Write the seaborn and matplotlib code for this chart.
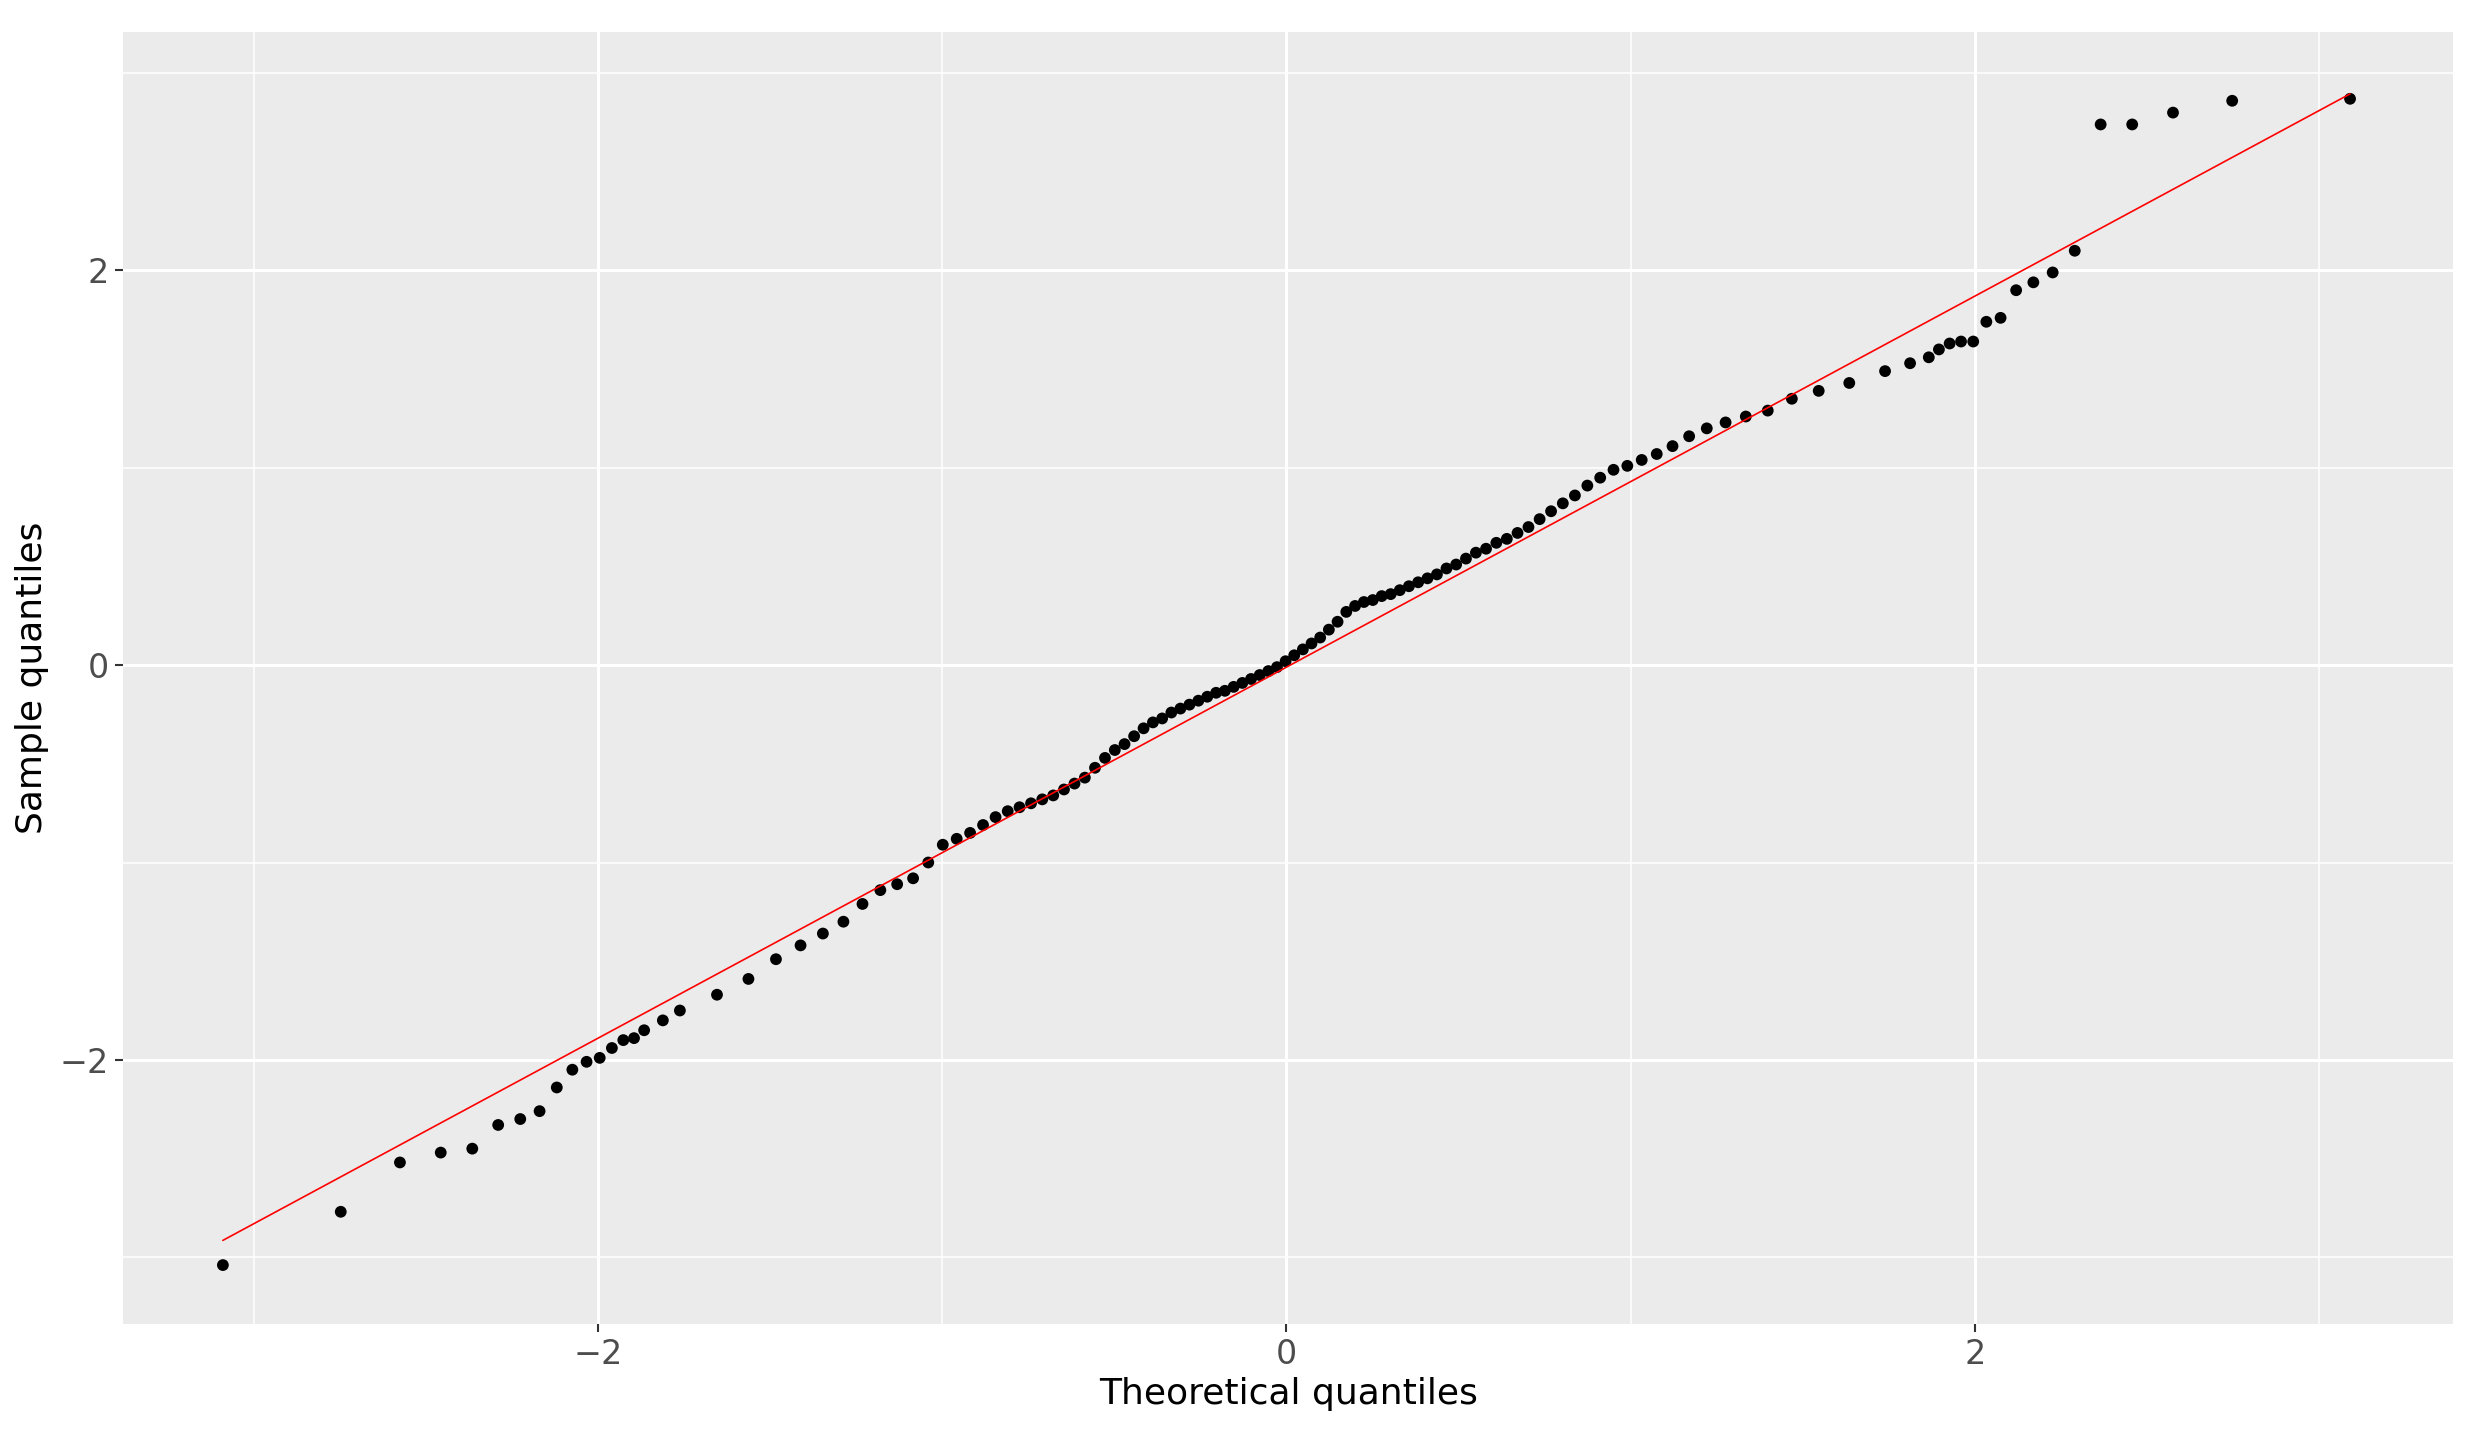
import numpy as np
import pandas as pd
import seaborn as sns
import matplotlib
matplotlib.use("Agg")
import matplotlib.pyplot as plt
from statistics import NormalDist

n_total = 500
ranks = ([1, 2, 3, 4, 5, 6, 7, 8, 9, 10, 11, 12, 13, 14, 15, 16, 18]
         + list(range(20, 481, 5)) + [483, 485]
         + [486, 487, 488, 489, 490, 491, 492, 493, 494, 495, 496, 497, 498, 499, 500])
sample = ([-3.04, -2.77, -2.52, -2.47, -2.45, -2.33, -2.30, -2.26, -2.14, -2.05, -2.01, -1.99,
           -1.94, -1.90, -1.89, -1.85, -1.80,
           -1.75, -1.67, -1.59, -1.49, -1.42, -1.36, -1.30, -1.21, -1.14, -1.11, -1.08, -1.00,
           -0.91, -0.88, -0.85, -0.81, -0.77, -0.74, -0.72, -0.70, -0.68, -0.66, -0.63, -0.60,
           -0.57, -0.52, -0.47, -0.43, -0.40, -0.36, -0.32, -0.29, -0.27, -0.24, -0.22, -0.20,
           -0.18, -0.16, -0.14, -0.13, -0.11, -0.09, -0.07, -0.05, -0.03, -0.01, 0.02, 0.05,
           0.08, 0.11, 0.14, 0.18, 0.22, 0.27, 0.30, 0.32, 0.33, 0.35, 0.36, 0.38, 0.40, 0.42,
           0.44, 0.46, 0.49, 0.51, 0.54, 0.57, 0.59, 0.62, 0.64, 0.67, 0.70, 0.74, 0.78, 0.82,
           0.86, 0.91, 0.95, 0.99, 1.01, 1.04, 1.07, 1.11, 1.16, 1.20, 1.23, 1.26, 1.29, 1.35,
           1.39, 1.43, 1.49, 1.53, 1.56,
           1.60, 1.63, 1.64, 1.64, 1.74, 1.76, 1.90, 1.94, 1.99, 2.10, 2.74, 2.74, 2.80, 2.86, 2.87])
line_slope = 0.94
line_intercept = -0.01

nd = NormalDist()
theo = [nd.inv_cdf((r - 0.5) / n_total) for r in ranks]
df = pd.DataFrame({"theoretical": theo, "sample": sample})

sns.set_theme(style="darkgrid", rc={"axes.facecolor": "#EBEBEB", "grid.color": "white"})
plt.rcParams['font.family'] = ['DejaVu Sans']
fig = plt.figure(figsize=(24.78, 14.41), dpi=100)
ax = fig.add_axes([0.0497, 0.081, 0.9403, 0.897])

sns.scatterplot(data=df, x="theoretical", y="sample", color="black", s=72,
                edgecolor="none", ax=ax, zorder=3)
xl = np.array([min(theo), max(theo)])
sns.lineplot(x=xl, y=line_intercept + line_slope * xl, color="red", linewidth=1.2, ax=ax, zorder=4)

ax.set_xlim(-3.38, 3.39)
ax.set_ylim(-3.34, 3.21)
ax.set_xticks([-2, 0, 2])
ax.set_yticks([-2, 0, 2])
ax.set_xticks([-3, -1, 1, 3], minor=True)
ax.set_yticks([-3, -1, 1, 3], minor=True)
ax.grid(which="major", color="white", linewidth=2.2)
ax.grid(which="minor", color="white", linewidth=1.1)
ax.tick_params(which="major", length=6, width=1.5, color="#333333", labelsize=24,
               labelcolor="#4D4D4D", left=True, bottom=True, pad=4)
ax.tick_params(which="minor", length=0)
for s in ax.spines.values():
    s.set_visible(False)
ax.set_xlabel("Theoretical quantiles", fontsize=26, color="black", labelpad=4)
ax.set_ylabel("Sample quantiles", fontsize=26, color="black", labelpad=8)
fig.savefig("out.png", dpi=100, facecolor="white")
